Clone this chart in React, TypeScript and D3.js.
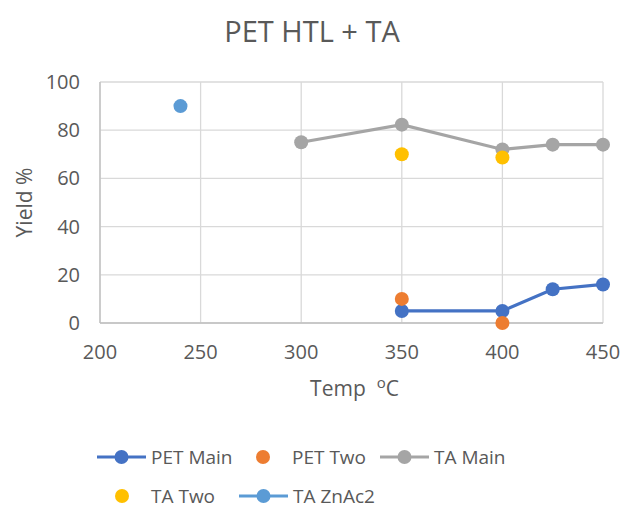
import React, { useEffect, useRef } from 'react';
import * as d3 from 'd3';

// values
const petMainX = [350, 400, 425, 450];
const petMainY = [5, 5, 14, 16];
const petTwoX = [350, 400];
const petTwoY = [10, 0];
const taMainX = [300, 350, 400, 425, 450];
const taMainY = [75, 82.3, 72, 74, 74];
const taTwoX = [350, 400];
const taTwoY = [70, 68.7];
const taZnX = [240];
const taZnY = [90];
const xTicks = [200, 250, 300, 350, 400, 450];
const yTicks = [0, 20, 40, 60, 80, 100];

const FONT = "'Open Sans', sans-serif";
const TXT = '#595959';

const series = [
  { name: 'PET Main', xs: petMainX, ys: petMainY, color: '#4472C4', line: true },
  { name: 'PET Two', xs: petTwoX, ys: petTwoY, color: '#ED7D31', line: false },
  { name: 'TA Main', xs: taMainX, ys: taMainY, color: '#A5A5A5', line: true },
  { name: 'TA Two', xs: taTwoX, ys: taTwoY, color: '#FFC000', line: false },
  { name: 'TA ZnAc2', xs: taZnX, ys: taZnY, color: '#5B9BD5', line: true },
];

const App = () => {
  const svgRef = useRef<SVGSVGElement>(null);
  const totalWidth = 623, totalHeight = 509;
  const margin = { top: 82, right: 20, bottom: 186, left: 100 },
    width = 603 - margin.left,
    height = 323 - margin.top;

  useEffect(() => {
    d3.select(svgRef.current).selectAll('*').remove();
    const root = d3.select(svgRef.current);
    root.append('rect').attr('width', totalWidth).attr('height', totalHeight).attr('fill', 'white');

    root.append('text')
      .attr('x', 312).attr('y', 42)
      .attr('text-anchor', 'middle')
      .style('font-family', FONT).style('font-size', '29px').attr('fill', TXT)
      .text('PET HTL + TA');

    const svg = root.append('g')
      .attr('transform', `translate(${margin.left},${margin.top})`);

    const x = d3.scaleLinear().domain([200, 450]).range([0, width]);
    const y = d3.scaleLinear().domain([0, 100]).range([height, 0]);

    // grid
    svg.append('g').selectAll('line.h').data(yTicks).enter().append('line')
      .attr('x1', 0).attr('x2', width)
      .attr('y1', (d: any) => y(d)).attr('y2', (d: any) => y(d))
      .attr('stroke', '#D9D9D9').attr('stroke-width', 1.3);
    svg.append('g').selectAll('line.v').data(xTicks).enter().append('line')
      .attr('y1', 0).attr('y2', height)
      .attr('x1', (d: any) => x(d)).attr('x2', (d: any) => x(d))
      .attr('stroke', '#D9D9D9').attr('stroke-width', 1.3);
    svg.append('line').attr('x1', 0).attr('x2', width).attr('y1', height).attr('y2', height)
      .attr('stroke', '#BFBFBF').attr('stroke-width', 1.3);
    svg.append('line').attr('x1', 0).attr('x2', 0).attr('y1', 0).attr('y2', height)
      .attr('stroke', '#BFBFBF').attr('stroke-width', 1.3);

    // tick labels
    svg.append('g').selectAll('text').data(yTicks).enter().append('text')
      .attr('x', -20).attr('y', (d: any) => y(d)).attr('dy', '0.35em')
      .attr('text-anchor', 'end')
      .style('font-family', FONT).style('font-size', '20px').attr('fill', TXT)
      .text((d: any) => d);
    svg.append('g').selectAll('text').data(xTicks).enter().append('text')
      .attr('x', (d: any) => x(d)).attr('y', height + 36)
      .attr('text-anchor', 'middle')
      .style('font-family', FONT).style('font-size', '20px').attr('fill', TXT)
      .text((d: any) => d);

    // axis titles
    const xt = svg.append('text')
      .attr('x', width / 2 + 3).attr('y', height + 73)
      .attr('text-anchor', 'middle')
      .style('font-family', FONT).style('font-size', '21px').attr('fill', TXT);
    xt.append('tspan').text('Temp\u00A0\u00A0');
    xt.append('tspan').attr('dy', -8).style('font-size', '15px').text('o');
    xt.append('tspan').attr('dy', 8).text('C');

    svg.append('text')
      .attr('transform', `translate(-68,${height / 2}) rotate(-90)`)
      .attr('text-anchor', 'middle')
      .style('font-family', FONT).style('font-size', '21px').attr('fill', TXT)
      .text('Yield %');

    // series
    series.forEach((s) => {
      const pts = s.xs.map((v, i) => [v, s.ys[i]] as [number, number]);
      if (s.line && pts.length > 1) {
        svg.append('path')
          .datum(pts)
          .attr('fill', 'none')
          .attr('stroke', s.color)
          .attr('stroke-width', 3.2)
          .attr('d', d3.line<[number, number]>().x(d => x(d[0])).y(d => y(d[1])) as any);
      }
      svg.append('g').selectAll('circle').data(pts).enter().append('circle')
        .attr('cx', (d: any) => x(d[0])).attr('cy', (d: any) => y(d[1]))
        .attr('r', 7).attr('fill', s.color);
    });

    // legend
    const legendPos = [
      { x: 97, y: 457 },
      { x: 248, y: 457 },
      { x: 380, y: 457 },
      { x: 107, y: 496 },
      { x: 239, y: 496 },
    ];
    series.forEach((s, i) => {
      const p = legendPos[i];
      const g = root.append('g').attr('transform', `translate(${p.x},${p.y})`);
      if (s.line) {
        g.append('line').attr('x1', 0).attr('x2', 49).attr('y1', 0).attr('y2', 0)
          .attr('stroke', s.color).attr('stroke-width', 3.2);
        g.append('circle').attr('cx', 24.5).attr('cy', 0).attr('r', 7).attr('fill', s.color);
        g.append('text').attr('x', 54).attr('dy', '0.35em')
          .style('font-family', FONT).style('font-size', '19px').attr('fill', TXT).text(s.name);
      } else {
        g.append('circle').attr('cx', 15).attr('cy', 0).attr('r', 7).attr('fill', s.color);
        g.append('text').attr('x', 44).attr('dy', '0.35em')
          .style('font-family', FONT).style('font-size', '19px').attr('fill', TXT).text(s.name);
      }
    });
  }, []);

  return (
    <svg ref={svgRef} width={totalWidth} height={totalHeight}
      style={{ position: 'absolute', left: 0, top: 0 }} />
  );
};

export default App;
